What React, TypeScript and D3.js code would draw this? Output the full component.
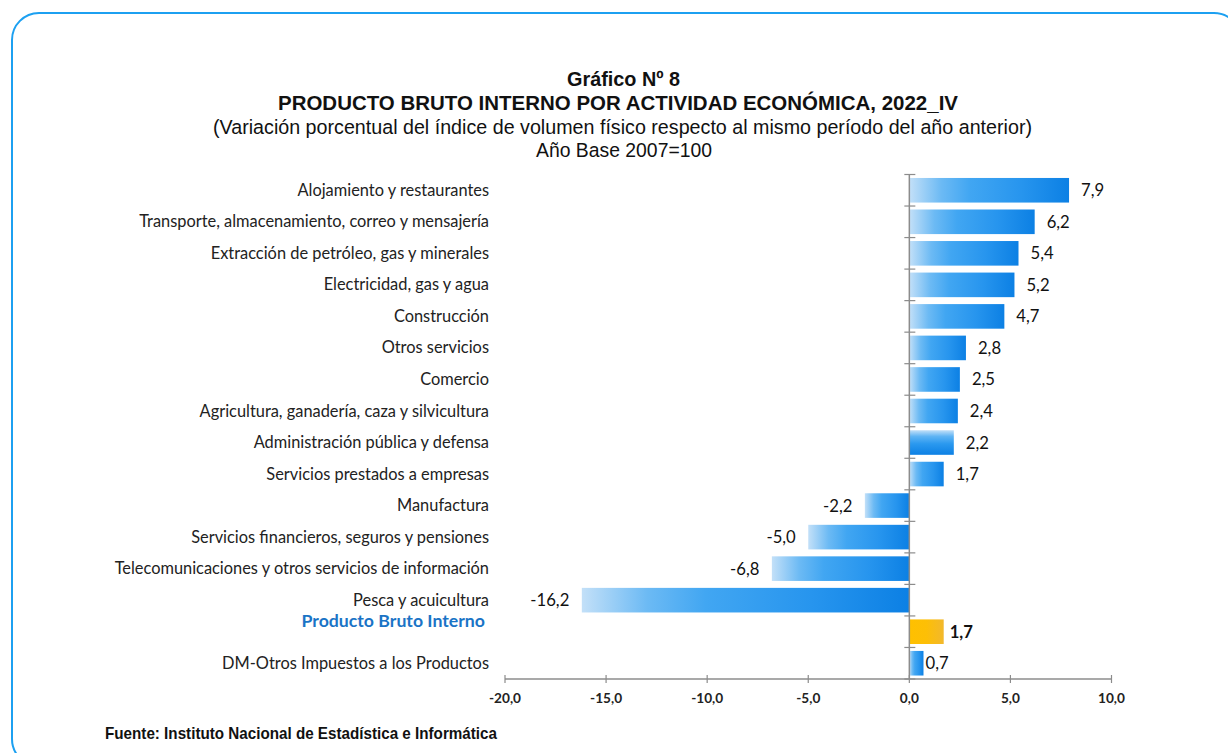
import React, { useLayoutEffect, useRef, useState } from 'react';
import * as d3 from 'd3';

const categories = [
  'Alojamiento y restaurantes',
  'Transporte, almacenamiento, correo y mensajería',
  'Extracción de petróleo, gas y minerales',
  'Electricidad, gas y agua',
  'Construcción',
  'Otros servicios',
  'Comercio',
  'Agricultura, ganadería, caza y silvicultura',
  'Administración pública y defensa',
  'Servicios prestados a empresas',
  'Manufactura',
  'Servicios financieros, seguros y pensiones',
  'Telecomunicaciones y otros servicios de información',
  'Pesca y acuicultura',
  'Producto Bruto Interno',
  'DM-Otros Impuestos a los Productos',
];
const values = [7.9, 6.2, 5.4, 5.2, 4.7, 2.8, 2.5, 2.4, 2.2, 1.7, -2.2, -5.0, -6.8, -16.2, 1.7, 0.7];
const xTicks = [-20, -15, -10, -5, 0, 5, 10];

const titleLines = [
  'Gráfico Nº 8',
  'PRODUCTO BRUTO INTERNO POR ACTIVIDAD ECONÓMICA, 2022_IV',
  '(Variación porcentual del índice de volumen físico respecto al mismo período del año anterior)',
  'Año Base 2007=100',
];
const sourceText = 'Fuente: Instituto Nacional de Estadística e Informática';

const TOTAL = 'Producto Bruto Interno';
const VERTICAL_GRADIENT = 'Administración pública y defensa';

const NARROW = '"Liberation Sans Narrow", "Arial Narrow", "Liberation Sans", Arial, sans-serif';
const SANS = 'Lato, Carlito, Calibri, "Noto Sans", sans-serif';

const W = 1228;
const H = 753;

const fmtTick = d3.formatLocale({ decimal: ',', thousands: '.', grouping: [3], currency: ['', ''], minus: '-' }).format('.1f');
const fmtVal = (v: number) => v.toFixed(1).replace('.', ',');

export default function App() {
  const ref = useRef<SVGSVGElement>(null);
  const [fs, setFs] = useState({ cat: 15, val: 16, tick: 12 });

  useLayoutEffect(() => {
    if (!ref.current) return;
    const svg = d3.select(ref.current);
    const measure = (txt: string, weight: number, size: number) => {
      const t = svg.append('text').attr('font-family', SANS).attr('font-weight', weight).attr('font-size', size).text(txt);
      const w = (t.node() as SVGTextElement).getComputedTextLength();
      t.remove();
      return w;
    };
    const cat = (16 * 350) / measure(categories[1], 400, 16);
    const val = (16 * 39) / measure('-16,2', 400, 16);
    const tick = (16 * 32) / measure('-20,0', 700, 16);
    setFs({ cat, val, tick });
  }, []);

  const x = d3.scaleLinear().domain([-20, 10]).range([505, 1111.5]);
  const y = d3.scaleBand<string>().domain(categories).range([174.5, 679]).paddingInner(0.22).paddingOuter(0.11);
  const step = y.step();
  const top = 174.5;
  const bottom = 679;

  const boundaries = d3.range(categories.length + 1).map((i) => top + i * step);

  const titleSpecs = [
    { y: 86, size: 21, weight: 700, width: 113, cx: 623.5 },
    { y: 110, size: 21, weight: 700, width: 680, cx: 618 },
    { y: 134, size: 20.5, weight: 400, width: 819, cx: 622.5 },
    { y: 157, size: 20.5, weight: 400, width: 176, cx: 624 },
  ];

  return (
    <svg ref={ref} width={W} height={H} style={{ position: 'absolute', left: 0, top: 0, display: 'block', background: '#fff' }}>
      <defs>
        <linearGradient id="gBlue" x1="0" y1="0" x2="1" y2="0">
          <stop offset="0" stopColor="#c3e0f8" />
          <stop offset="0.2" stopColor="#6cbaf4" />
          <stop offset="0.38" stopColor="#41a6f2" />
          <stop offset="0.7" stopColor="#2795ee" />
          <stop offset="1" stopColor="#0c80e4" />
        </linearGradient>
        <linearGradient id="gBlueV" x1="0" y1="0" x2="0" y2="1">
          <stop offset="0" stopColor="#c3e0f8" />
          <stop offset="0.25" stopColor="#5fb4f4" />
          <stop offset="0.55" stopColor="#2b99ef" />
          <stop offset="1" stopColor="#0c80e4" />
        </linearGradient>
        <linearGradient id="gGold" x1="0" y1="0" x2="1" y2="0">
          <stop offset="0" stopColor="#ffc000" />
          <stop offset="0.5" stopColor="#fdbf06" />
          <stop offset="1" stopColor="#f2b82d" />
        </linearGradient>
      </defs>

      <rect x={12} y={13} width={1229} height={753} rx={27} ry={27} fill="none" stroke="#1ca0f1" strokeWidth={2} />

      {titleLines.map((t, i) => (
        <text
          key={i}
          x={titleSpecs[i].cx}
          y={titleSpecs[i].y}
          textAnchor="middle"
          fontFamily={NARROW}
          fontSize={titleSpecs[i].size}
          fontWeight={titleSpecs[i].weight}
          textLength={titleSpecs[i].width}
          lengthAdjust="spacingAndGlyphs"
          fill="#111"
        >
          {t}
        </text>
      ))}

      {/* bars */}
      {categories.map((c, i) => {
        const v = values[i];
        const x0 = x(Math.min(0, v));
        const x1 = x(Math.max(0, v));
        const fill = c === TOTAL ? 'url(#gGold)' : c === VERTICAL_GRADIENT ? 'url(#gBlueV)' : 'url(#gBlue)';
        return <rect key={c} x={x0} y={y(c)!} width={x1 - x0} height={y.bandwidth()} fill={fill} />;
      })}

      {/* y axis */}
      <line x1={x(0)} x2={x(0)} y1={top} y2={bottom} stroke="#8c8c8c" strokeWidth={1.5} />
      {boundaries.map((b, i) => (
        <line key={i} x1={x(0) - 5} x2={x(0) + 6} y1={b} y2={b} stroke="#8c8c8c" strokeWidth={1.2} />
      ))}

      {/* x axis */}
      <line x1={x(-20)} x2={x(10)} y1={bottom} y2={bottom} stroke="#8c8c8c" strokeWidth={1.5} />
      {xTicks.map((t) => (
        <g key={t}>
          <line x1={x(t)} x2={x(t)} y1={bottom - 4} y2={bottom + 4} stroke="#8c8c8c" strokeWidth={1.2} />
          <text x={x(t)} y={703} textAnchor="middle" fontFamily={SANS} fontWeight={700} fontSize={fs.tick} fill="#222">
            {fmtTick(t)}
          </text>
        </g>
      ))}

      {/* category labels */}
      {categories.map((c) => {
        const cy = y(c)! + y.bandwidth() / 2;
        const isTotal = c === TOTAL;
        return (
          <text
            key={c}
            x={isTotal ? 485 : 489}
            y={isTotal ? cy - 4.5 : cy + fs.cat * 0.34}
            textAnchor="end"
            fontFamily={SANS}
            fontSize={isTotal ? fs.cat * 1.08 : fs.cat}
            fontWeight={isTotal ? 700 : 400}
            fill={isTotal ? '#1a74c6' : '#222'}
          >
            {c}
          </text>
        );
      })}

      {/* value labels */}
      {categories.map((c, i) => {
        const v = values[i];
        const cy = y(c)! + y.bandwidth() / 2;
        const isTotal = c === TOTAL;
        const gap = c.startsWith('DM') ? 2 : isTotal ? 6 : v >= 0 ? 12 : 12.5;
        return (
          <text
            key={c}
            x={v >= 0 ? x(v) + gap : x(v) - gap}
            y={cy + fs.val * 0.36}
            textAnchor={v >= 0 ? 'start' : 'end'}
            fontFamily={SANS}
            fontSize={fs.val}
            fontWeight={isTotal ? 700 : 400}
            fill="#111"
          >
            {fmtVal(v)}
          </text>
        );
      })}

      <text x={105} y={739} fontFamily={NARROW} fontWeight={700} fontSize={17} textLength={392} lengthAdjust="spacingAndGlyphs" fill="#111">
        {sourceText}
      </text>
    </svg>
  );
}
